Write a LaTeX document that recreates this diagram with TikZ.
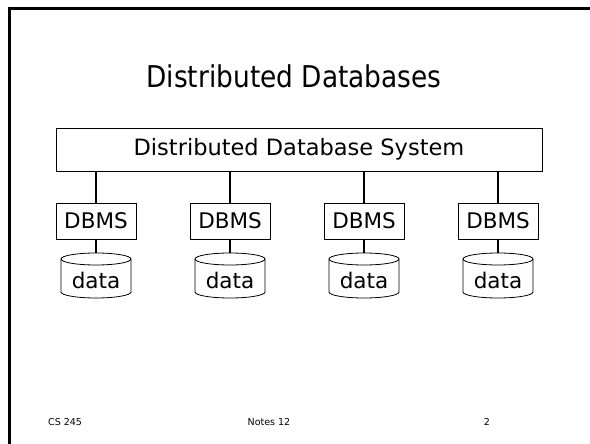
\documentclass[tikz,border=0pt]{standalone}
\usepackage{fontspec}
\setmainfont{DejaVu Sans}
\begin{document}
\begin{tikzpicture}[x=1pt,y=-1pt,
  frame/.style={line width=3pt},
  titletext/.style={font=\fontsize{30}{36}\selectfont, inner sep=0pt, anchor=base},
  sysbox/.style={draw, line width=0.8pt, minimum width=486pt, minimum height=43pt, inner sep=0pt, font=\fontsize{22.5}{27}\selectfont},
  dbbox/.style={draw, line width=0.8pt, minimum width=80pt, minimum height=36pt, inner sep=0pt, font=\fontsize{21.5}{26}\selectfont},
  datanode/.style={minimum width=70pt, minimum height=45pt, inner sep=0pt},
  datatext/.style={font=\fontsize{21.5}{26}\selectfont, inner sep=0pt, anchor=base},
  cyl/.style={line width=0.8pt},
  link/.style={line width=1.5pt},
  foot/.style={font=\fontsize{9.5}{11}\selectfont, inner sep=0pt, anchor=base}]
\useasboundingbox (0,0) rectangle (590,444);
\draw[frame] (9,444) -- (9,9) -- (590,9);
\node[titletext] (title) at (294,88) {\scalebox{0.88}[1]{Distributed Databases}};
\node[sysbox] (sys) at (299,149.5) {Distributed Database System};
\foreach \i/\x in {1/96,2/230,3/364,4/498}{
  \node[dbbox] (m\i) at (\x,221) {DBMS};
  \node[datanode] (d\i) at (\x,275.5) {};
  \draw[cyl] (\x-35,259) -- (\x-35,292) arc[start angle=180,end angle=360,x radius=35pt,y radius=6pt] -- (\x+35,259);
  \draw[cyl] (\x,259) ellipse[x radius=35pt, y radius=6pt];
  \node[datatext] (t\i) at (\x,288) {data};
  \draw[link] (sys.south -| m\i) -- (m\i.north);
  \draw[link] (m\i.south) -- (d\i.north);
}
\node[foot, anchor=base west] (f1) at (48,425) {CS 245};
\node[foot] (f2) at (269,425) {Notes 12};
\node[foot] (f3) at (487,425) {2};
\end{tikzpicture}
\end{document}
